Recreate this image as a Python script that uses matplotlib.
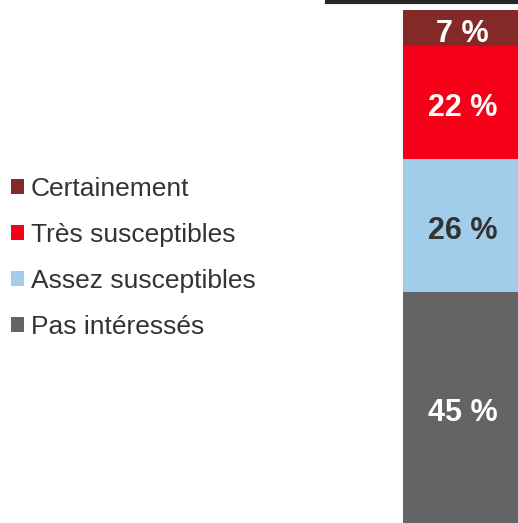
import matplotlib.pyplot as plt
from matplotlib.patches import Patch

# data (bottom to top)
categories = ['Pas intéressés', 'Assez susceptibles', 'Très susceptibles', 'Certainement']
values = [45, 26, 22, 7]
colors = ['#646464', '#A2CDEA', '#F50019', '#832A28']
label_colors = ['white', '#333333', 'white', 'white']

plt.rcParams['font.family'] = ['Liberation Sans', 'DejaVu Sans']

fig = plt.figure(figsize=(5.18, 5.23), dpi=100)
ax = fig.add_axes([327 / 518, 0, 1 - 327 / 518, 1 - 1.5 / 523])

bottom = 0
for val, col, lc in zip(values, colors, label_colors):
    ax.bar(0, val, width=0.8, bottom=bottom, color=col, linewidth=0)
    ax.annotate(f'{val} %', (0, bottom + val / 2), xytext=(1.5, -4),
                textcoords='offset points', ha='center', va='center',
                color=lc, fontsize=22, fontweight='bold')
    bottom += val

ax.set_xlim(-0.929, 0.4)
ax.set_ylim(0, 100 * 521.5 / 513)
for s in ['left', 'right', 'bottom']:
    ax.spines[s].set_visible(False)
ax.spines['top'].set_linewidth(3)
ax.spines['top'].set_color('#262626')
ax.set_xticks([])
ax.set_yticks([])

handles = [Patch(facecolor=c, edgecolor='none') for c in colors[::-1]]
fig.legend(handles, categories[::-1], loc='center left',
           bbox_to_anchor=(11 / 518, (523 - 258) / 523),
           frameon=False, fontsize=19, labelcolor='#333333',
           handlelength=0.5, handleheight=0.5, handletextpad=0.25,
           labelspacing=0.83, borderpad=0, borderaxespad=0)

fig.savefig('out.png', dpi=100)
